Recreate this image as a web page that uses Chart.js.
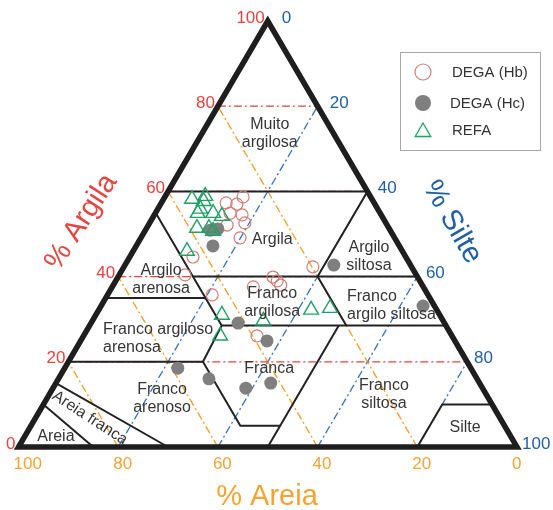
<!DOCTYPE html>
<html>
<head>
<meta charset="utf-8">
<script src="https://cdn.jsdelivr.net/npm/chart.js@4.4.0/dist/chart.umd.min.js"></script>
<style>
  html, body { margin: 0; padding: 0; background: #fff; }
  #wrap { width: 553px; height: 510px; }
</style>
</head>
<body>
<div id="wrap"><canvas id="chart" width="553" height="510"></canvas></div>
<script>
// Amostras: % argila e % silte (areia = 100 - argila - silte)
const hbArgila = [58.7, 57.3, 57.0, 54.9, 54.5, 52.6, 52.1, 49.1, 44.6, 40.4, 35.7, 42.3, 39.9, 39.0, 38.0, 37.6, 26.1];
const hbSilte  = [15.7, 13.0, 15.3, 15.0, 17.6, 19.1, 15.8, 19.9, 12.7, 13.2, 21.0, 37.9, 31.1, 32.4, 33.6, 28.3, 34.8];

const hcArgila = [51.2, 50.9, 47.2, 42.7, 33.1, 29.1, 24.9, 18.5, 16.0, 13.8, 15.0];
const hcSilte  = [14.4, 13.0, 15.4, 41.9, 64.6, 29.5, 37.4, 22.7, 30.2, 38.7, 43.1];

const refaArgila = [58.2, 58.9, 57.7, 55.9, 54.9, 54.9, 54.2, 51.4, 51.4, 50.7, 46.0, 31.0, 26.1, 29.6, 32.2, 32.6];
const refaSilte  = [5.7, 8.0, 8.3, 8.5, 8.5, 11.6, 13.7, 10.1, 12.5, 13.7, 10.8, 25.3, 27.4, 34.3, 42.6, 46.2];

// Marcas dos eixos e linhas-guia
const ticks = [0, 20, 40, 60, 80, 100];
const guias = [20, 40, 60, 80];

// Limites das classes texturais, como [argila, silte]
const limites = [
  [[60, 0], [60, 40]],
  [[55, 0], [28.5, 26.5], [20, 27], [5, 42], [5, 50]],
  [[35, 0], [35, 20]],
  [[40, 15], [40, 60]],
  [[60, 40], [40, 40], [28.5, 51.5]],
  [[28.5, 26.5], [28.5, 71.5]],
  [[20, 0], [20, 27]],
  [[28.5, 50], [0, 50]],
  [[0, 80], [10, 80], [10, 90]],
  [[15, 0], [0, 30]],
  [[10, 0], [0, 15]]
];

// Nomes das classes (posição em unidades da escala cartesiana)
const classes = [
  { nome: ['Muito', 'argilosa'], x: 50.4, y: 73.5 },
  { nome: ['Argila'], x: 50.9, y: 48.8 },
  { nome: ['Argilo', 'siltosa'], x: 70.3, y: 44.6 },
  { nome: ['Argilo', 'arenosa'], x: 28.6, y: 39.4 },
  { nome: ['Franco', 'argilosa'], x: 50.9, y: 34.0 },
  { nome: ['Franco', 'argilo siltosa'], x: 65.9, y: 33.1, alinhar: 'left' },
  { nome: ['Franco argiloso', 'arenosa'], x: 16.95, y: 25.35, alinhar: 'left' },
  { nome: ['Franca'], x: 50.3, y: 18.3 },
  { nome: ['Franco', 'arenoso'], x: 28.8, y: 11.3 },
  { nome: ['Franco', 'siltosa'], x: 73.3, y: 12.4 },
  { nome: ['Silte'], x: 89.6, y: 4.5 },
  { nome: ['Areia'], x: 7.5, y: 2.35 },
  { nome: ['Areia franca'], x: 14.3, y: 6.8, angulo: 33 }
];

const FONTE = '"Liberation Sans", Arial, sans-serif';
const VERMELHO = '#e8433e';
const AZUL = '#1f5fa6';
const LARANJA = '#f5a333';
const COR_HB = '#d07e76';
const COR_HC = '#7f7f7f';
const COR_REFA = '#1fa066';

// Coordenadas ternárias -> plano (x = silte + argila/2, y = argila)
function toXY(argila, silte) {
  return { x: silte + argila / 2, y: argila };
}

function serie(argila, silte) {
  return argila.map((a, i) => toXY(a, silte[i]));
}

function linha(pontos, cor, largura, tracejado, ordem) {
  return {
    data: pontos.map(p => toXY(p[0], p[1])),
    showLine: true,
    borderColor: cor,
    borderWidth: largura,
    borderDash: tracejado,
    borderJoinStyle: 'miter',
    borderCapStyle: 'butt',
    pointRadius: 0,
    tension: 0,
    fill: false,
    clip: false,
    order: ordem
  };
}

const datasets = [];

const traco = [8, 3, 2, 3];
guias.forEach(c => datasets.push(linha([[c, 0], [c, 100 - c]], VERMELHO, 1.3, traco, 6)));
guias.forEach(a => datasets.push(linha([[0, 100 - a], [100 - a, 0]], '#f4a230', 1.4, traco, 6)));
guias.forEach(s => datasets.push(linha([[0, s], [100 - s, s]], '#3572c4', 1.3, traco, 6)));

limites.forEach(l => datasets.push(linha(l, '#222', 2, [], 5)));

// Contorno do triângulo, começando no meio da base para fechar os cantos em ponta
datasets.push(linha([[0, 50], [0, 100], [100, 0], [0, 0], [0, 50]], '#1e1e1e', 5.5, [], 4));

datasets.push({
  label: 'DEGA (Hb)',
  data: serie(hbArgila, hbSilte),
  pointStyle: 'circle',
  pointRadius: 6,
  pointBorderWidth: 1.2,
  pointBorderColor: COR_HB,
  pointBackgroundColor: 'rgba(255,255,255,0)',
  clip: false,
  order: 3
});
datasets.push({
  label: 'DEGA (Hc)',
  data: serie(hcArgila, hcSilte),
  pointStyle: 'circle',
  pointRadius: 6.5,
  pointBorderWidth: 0,
  pointBorderColor: COR_HC,
  pointBackgroundColor: COR_HC,
  clip: false,
  order: 2
});
datasets.push({
  label: 'REFA',
  data: serie(refaArgila, refaSilte),
  pointStyle: 'triangle',
  pointRadius: 8.5,
  pointBorderWidth: 1.4,
  pointBorderColor: COR_REFA,
  pointBackgroundColor: 'rgba(255,255,255,0)',
  clip: false,
  order: 1
});

function texto(ctx, s, x, y, opts) {
  ctx.save();
  ctx.font = opts.font;
  ctx.fillStyle = opts.cor;
  ctx.textAlign = opts.alinhar || 'center';
  ctx.textBaseline = 'middle';
  ctx.translate(x, y);
  if (opts.angulo) ctx.rotate(opts.angulo * Math.PI / 180);
  ctx.fillText(s, 0, 0);
  ctx.restore();
}

const rotulos = {
  id: 'rotulos',
  afterDatasetsDraw(chart) {
    const ctx = chart.ctx;
    const xs = chart.scales.x, ys = chart.scales.y;
    const px = (argila, silte) => [xs.getPixelForValue(silte + argila / 2), ys.getPixelForValue(argila)];
    const fTick = '17px ' + FONTE;

    // Marcas: argila (esquerda), silte (direita), areia (base)
    ticks.forEach(t => {
      let [x, y] = px(t, 0);
      texto(ctx, String(t), x - 3, y - 3, { font: fTick, cor: VERMELHO, alinhar: 'right' });
      [x, y] = px(100 - t, t);
      texto(ctx, String(t), x + 5 + 0.09 * (100 - t), y - 3, { font: fTick, cor: AZUL, alinhar: 'left' });
      [x, y] = px(0, 100 - t);
      texto(ctx, String(t), x - 5, y + 17, { font: fTick, cor: LARANJA, alinhar: 'left' });
    });

    // Nomes das classes
    const fClasse = '16px ' + FONTE;
    classes.forEach(c => {
      const cx = xs.getPixelForValue(c.x), cy = ys.getPixelForValue(c.y);
      const n = c.nome.length;
      c.nome.forEach((s, i) => {
        const dy = (i - (n - 1) / 2) * 18;
        texto(ctx, s, cx, cy + dy, { font: fClasse, cor: '#363636', alinhar: c.alinhar, angulo: c.angulo });
      });
    });

    // Títulos dos eixos
    const fTitulo = '29px ' + FONTE;
    texto(ctx, '% Argila', xs.getPixelForValue(12.6), ys.getPixelForValue(52.8), { font: fTitulo, cor: VERMELHO, angulo: -57 });
    texto(ctx, '% Silte', xs.getPixelForValue(87.0), ys.getPixelForValue(52.8), { font: fTitulo, cor: AZUL, angulo: 60 });
    texto(ctx, '% Areia', xs.getPixelForValue(49.85), ys.getPixelForValue(-11.7), { font: fTitulo, cor: LARANJA });

    // Legenda
    ctx.save();
    ctx.fillStyle = '#fff';
    ctx.strokeStyle = '#a9a9a9';
    ctx.lineWidth = 1;
    ctx.fillRect(400.5, 52.5, 140, 98);
    ctx.strokeRect(400.5, 52.5, 140, 98);

    const lx = 423;
    ctx.lineWidth = 1.2;
    ctx.strokeStyle = COR_HB;
    ctx.beginPath();
    ctx.arc(lx, 72, 8, 0, Math.PI * 2);
    ctx.stroke();

    ctx.fillStyle = COR_HC;
    ctx.beginPath();
    ctx.arc(lx, 103, 8, 0, Math.PI * 2);
    ctx.fill();

    ctx.strokeStyle = COR_REFA;
    ctx.lineWidth = 1.3;
    const r = 9, ty = 132;
    ctx.beginPath();
    for (let k = 0; k < 3; k++) {
      const a = k * 2 * Math.PI / 3;
      const vx = lx + Math.sin(a) * r, vy = ty - Math.cos(a) * r;
      if (k === 0) ctx.moveTo(vx, vy); else ctx.lineTo(vx, vy);
    }
    ctx.closePath();
    ctx.stroke();
    ctx.restore();

    const fLeg = '15px ' + FONTE;
    texto(ctx, 'DEGA (Hb)', 452, 73, { font: fLeg, cor: '#333', alinhar: 'left' });
    texto(ctx, 'DEGA (Hc)', 450, 104, { font: fLeg, cor: '#333', alinhar: 'left' });
    texto(ctx, 'REFA', 452, 131, { font: fLeg, cor: '#333', alinhar: 'left' });
  }
};

new Chart(document.getElementById('chart'), {
  type: 'scatter',
  data: { datasets: datasets },
  options: {
    responsive: false,
    animation: false,
    events: [],
    layout: { padding: { left: 18.5, right: 36, top: 21, bottom: 63 } },
    scales: {
      x: { type: 'linear', min: 0, max: 100, display: false },
      y: { type: 'linear', min: 0, max: 100, display: false }
    },
    plugins: {
      legend: { display: false },
      tooltip: { enabled: false }
    }
  },
  plugins: [rotulos]
});
</script>
</body>
</html>
